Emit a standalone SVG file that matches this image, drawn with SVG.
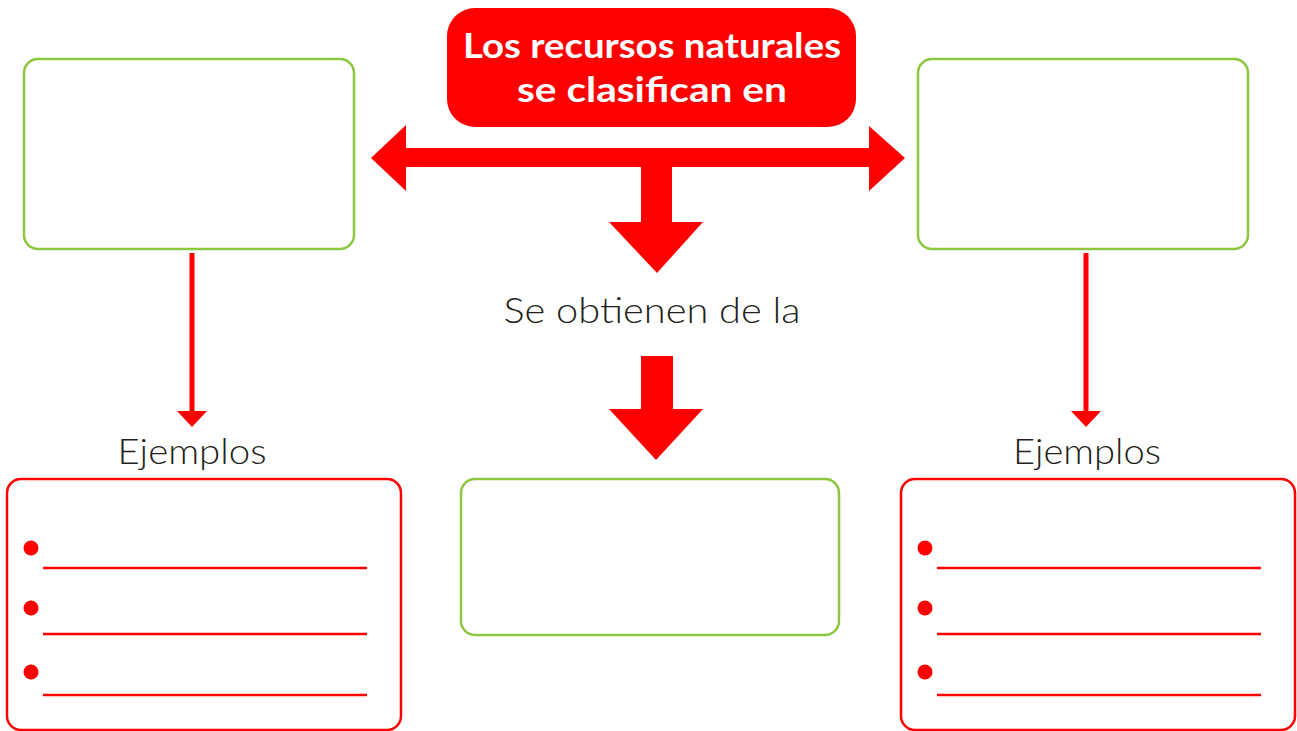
<svg xmlns="http://www.w3.org/2000/svg" width="1297" height="731" viewBox="0 0 1297 731">
<style>
.green{fill:#fff;stroke:#8DC63F;stroke-width:2.5}
.redbox{fill:#fff;stroke:#FF0000;stroke-width:2.5}
.fill{fill:#FF0000}
.wline{stroke:#FF0000;stroke-width:2.5}
.bul{fill:#FF0000}
.lbl{font-family:Lato,"Liberation Sans",sans-serif;font-weight:300;font-size:35px;fill:#231F20}
.ttl{font-family:Lato,"Liberation Sans",sans-serif;font-weight:700;font-size:34px;fill:#fff}
</style>
<rect width="1297" height="731" fill="#fff"/>
<g id="title">
<rect x="447" y="8" width="409" height="119" rx="28" class="fill"/>
<text class="ttl" x="652" y="58" text-anchor="middle" textLength="378" lengthAdjust="spacingAndGlyphs">Los recursos naturales</text>
<text class="ttl" x="652" y="102" text-anchor="middle" textLength="270" lengthAdjust="spacingAndGlyphs">se clasifican en</text>
</g>
<g id="connectors">
<polygon class="fill" points="371,158 406,125 406,148 869,148 869,126 905,158 869,191 869,167 672,167 672,222 703,222 657,273 609,222 641,222 641,167 406,167 406,191"/>
<polygon class="fill" points="641,356 673,356 673,409 703,409 656,460 609,409 641,409"/>
<line class="wline" x1="192" y1="253" x2="192" y2="413" style="stroke-width:5"/>
<polygon class="fill" points="177,411 207,411 192,427"/>
<line class="wline" x1="1086" y1="253" x2="1086" y2="413" style="stroke-width:5"/>
<polygon class="fill" points="1071,411 1101,411 1086,427"/>
</g>
<g id="left-box"><rect x="24" y="59" width="330" height="190" rx="14" class="green"/></g>
<g id="right-box"><rect x="918" y="59" width="330" height="190" rx="14" class="green"/></g>
<g id="middle-label"><text class="lbl" x="652" y="323" text-anchor="middle" textLength="297" lengthAdjust="spacingAndGlyphs">Se obtienen de la</text></g>
<g id="center-box"><rect x="461" y="479" width="378" height="156" rx="14" class="green"/></g>
<g id="left-examples">
<text class="lbl" x="192" y="464" text-anchor="middle" textLength="149" lengthAdjust="spacingAndGlyphs">Ejemplos</text>
<rect x="7" y="479" width="394" height="251" rx="14" class="redbox"/>
<circle class="bul" cx="31" cy="548" r="7.5"/>
<circle class="bul" cx="31" cy="608" r="7.5"/>
<circle class="bul" cx="31" cy="672" r="7.5"/>
<line class="wline" x1="43" y1="568" x2="367" y2="568"/>
<line class="wline" x1="43" y1="634" x2="367" y2="634"/>
<line class="wline" x1="43" y1="695" x2="367" y2="695"/>
</g>
<g id="right-examples">
<text class="lbl" x="1087" y="464" text-anchor="middle" textLength="148" lengthAdjust="spacingAndGlyphs">Ejemplos</text>
<rect x="901" y="479" width="394" height="251" rx="14" class="redbox"/>
<circle class="bul" cx="925" cy="548" r="7.5"/>
<circle class="bul" cx="925" cy="608" r="7.5"/>
<circle class="bul" cx="925" cy="672" r="7.5"/>
<line class="wline" x1="937" y1="568" x2="1261" y2="568"/>
<line class="wline" x1="937" y1="634" x2="1261" y2="634"/>
<line class="wline" x1="937" y1="695" x2="1261" y2="695"/>
</g>
</svg>
